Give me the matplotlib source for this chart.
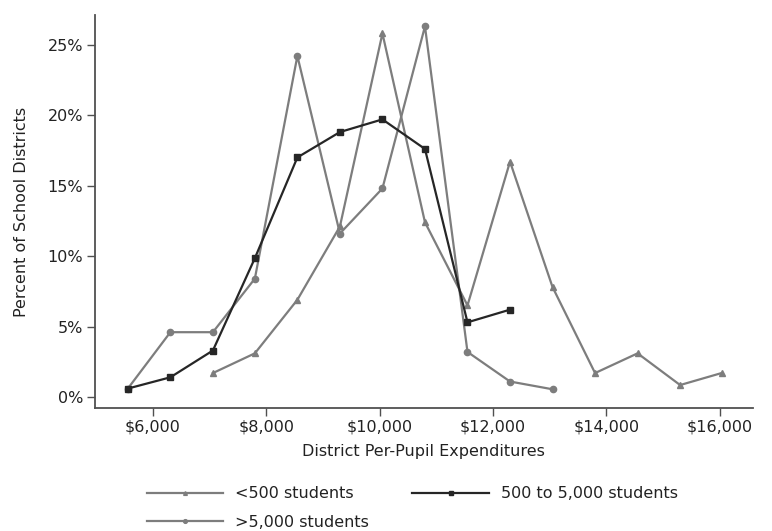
import matplotlib
matplotlib.use("Agg")
import matplotlib.pyplot as plt
from matplotlib.ticker import FuncFormatter

plt.rcParams['font.family'] = ['DejaVu Sans']

# Data (bin midpoints of per-pupil expenditures, $)
x_small = [7060, 7800, 8550, 9300, 10050, 10800, 11550, 12300, 13050, 13800, 14550, 15300, 16030]
y_small = [1.7, 3.1, 6.9, 12.1, 25.8, 12.4, 6.5, 16.7, 7.8, 1.7, 3.1, 0.85, 1.7]

x_mid = [5560, 6310, 7060, 7800, 8550, 9300, 10050, 10800, 11550, 12300]
y_mid = [0.6, 1.4, 3.3, 9.85, 17.0, 18.8, 19.7, 17.6, 5.3, 6.2]

x_large = [5560, 6310, 7060, 7800, 8550, 9300, 10050, 10800, 11550, 12300, 13050]
y_large = [0.6, 4.6, 4.6, 8.4, 24.2, 11.6, 14.8, 26.3, 3.2, 1.1, 0.55]

labels = ["<500 students", "500 to 5,000 students", ">5,000 students"]
xticks = [6000, 8000, 10000, 12000, 14000, 16000]
yticks = [0, 5, 10, 15, 20, 25]

FS = 11.5
fig = plt.figure(figsize=(7.72, 5.31), dpi=100)
ax = fig.add_axes([0.123, 0.2316, 0.852, 0.740])

gray = "#7d7d7d"
black = "#262626"
l1, = ax.plot(x_small, y_small, color=gray, lw=1.6, marker="^", ms=4.5, mfc=gray, mec=gray, label=labels[0])
l3, = ax.plot(x_large, y_large, color=gray, lw=1.6, marker="o", ms=4.5, mfc=gray, mec=gray, label=labels[2])
l2, = ax.plot(x_mid, y_mid, color=black, lw=1.6, marker="s", ms=4.5, mfc=black, mec=black, label=labels[1])

ax.set_xlim(4980, 16580)
ax.set_ylim(-0.78, 27.1)
ax.set_xticks(xticks)
ax.set_yticks(yticks)
ax.xaxis.set_major_formatter(FuncFormatter(lambda v, p: "${:,.0f}".format(v)))
ax.yaxis.set_major_formatter(FuncFormatter(lambda v, p: "{:.0f}%".format(v)))

for s in ["top", "right"]:
    ax.spines[s].set_visible(False)
for s in ["left", "bottom"]:
    ax.spines[s].set_color("#505050")
    ax.spines[s].set_linewidth(1.3)
ax.tick_params(axis="both", colors="#505050", labelcolor="#222222", labelsize=FS, length=6, width=1.0)
ax.tick_params(axis="y", pad=2.5)
ax.tick_params(axis="x", pad=2)

ax.set_xlabel("District Per-Pupil Expenditures", fontsize=FS, color="#222222", labelpad=7)
ax.set_ylabel("Percent of School Districts", fontsize=FS, color="#222222", labelpad=13)

leg = fig.legend(handles=[l1, l3, l2], labels=[labels[0], labels[2], labels[1]],
                 ncol=2, loc="upper left", bbox_to_anchor=(0.190, 0.084),
                 frameon=False, fontsize=FS, handlelength=4.8, markerscale=0.6,
                 columnspacing=2.7, handletextpad=0.75, labelspacing=0.85,
                 borderaxespad=0, borderpad=0)
for t in leg.get_texts():
    t.set_color("#222222")

fig.savefig("out.png", dpi=100, facecolor="white")
